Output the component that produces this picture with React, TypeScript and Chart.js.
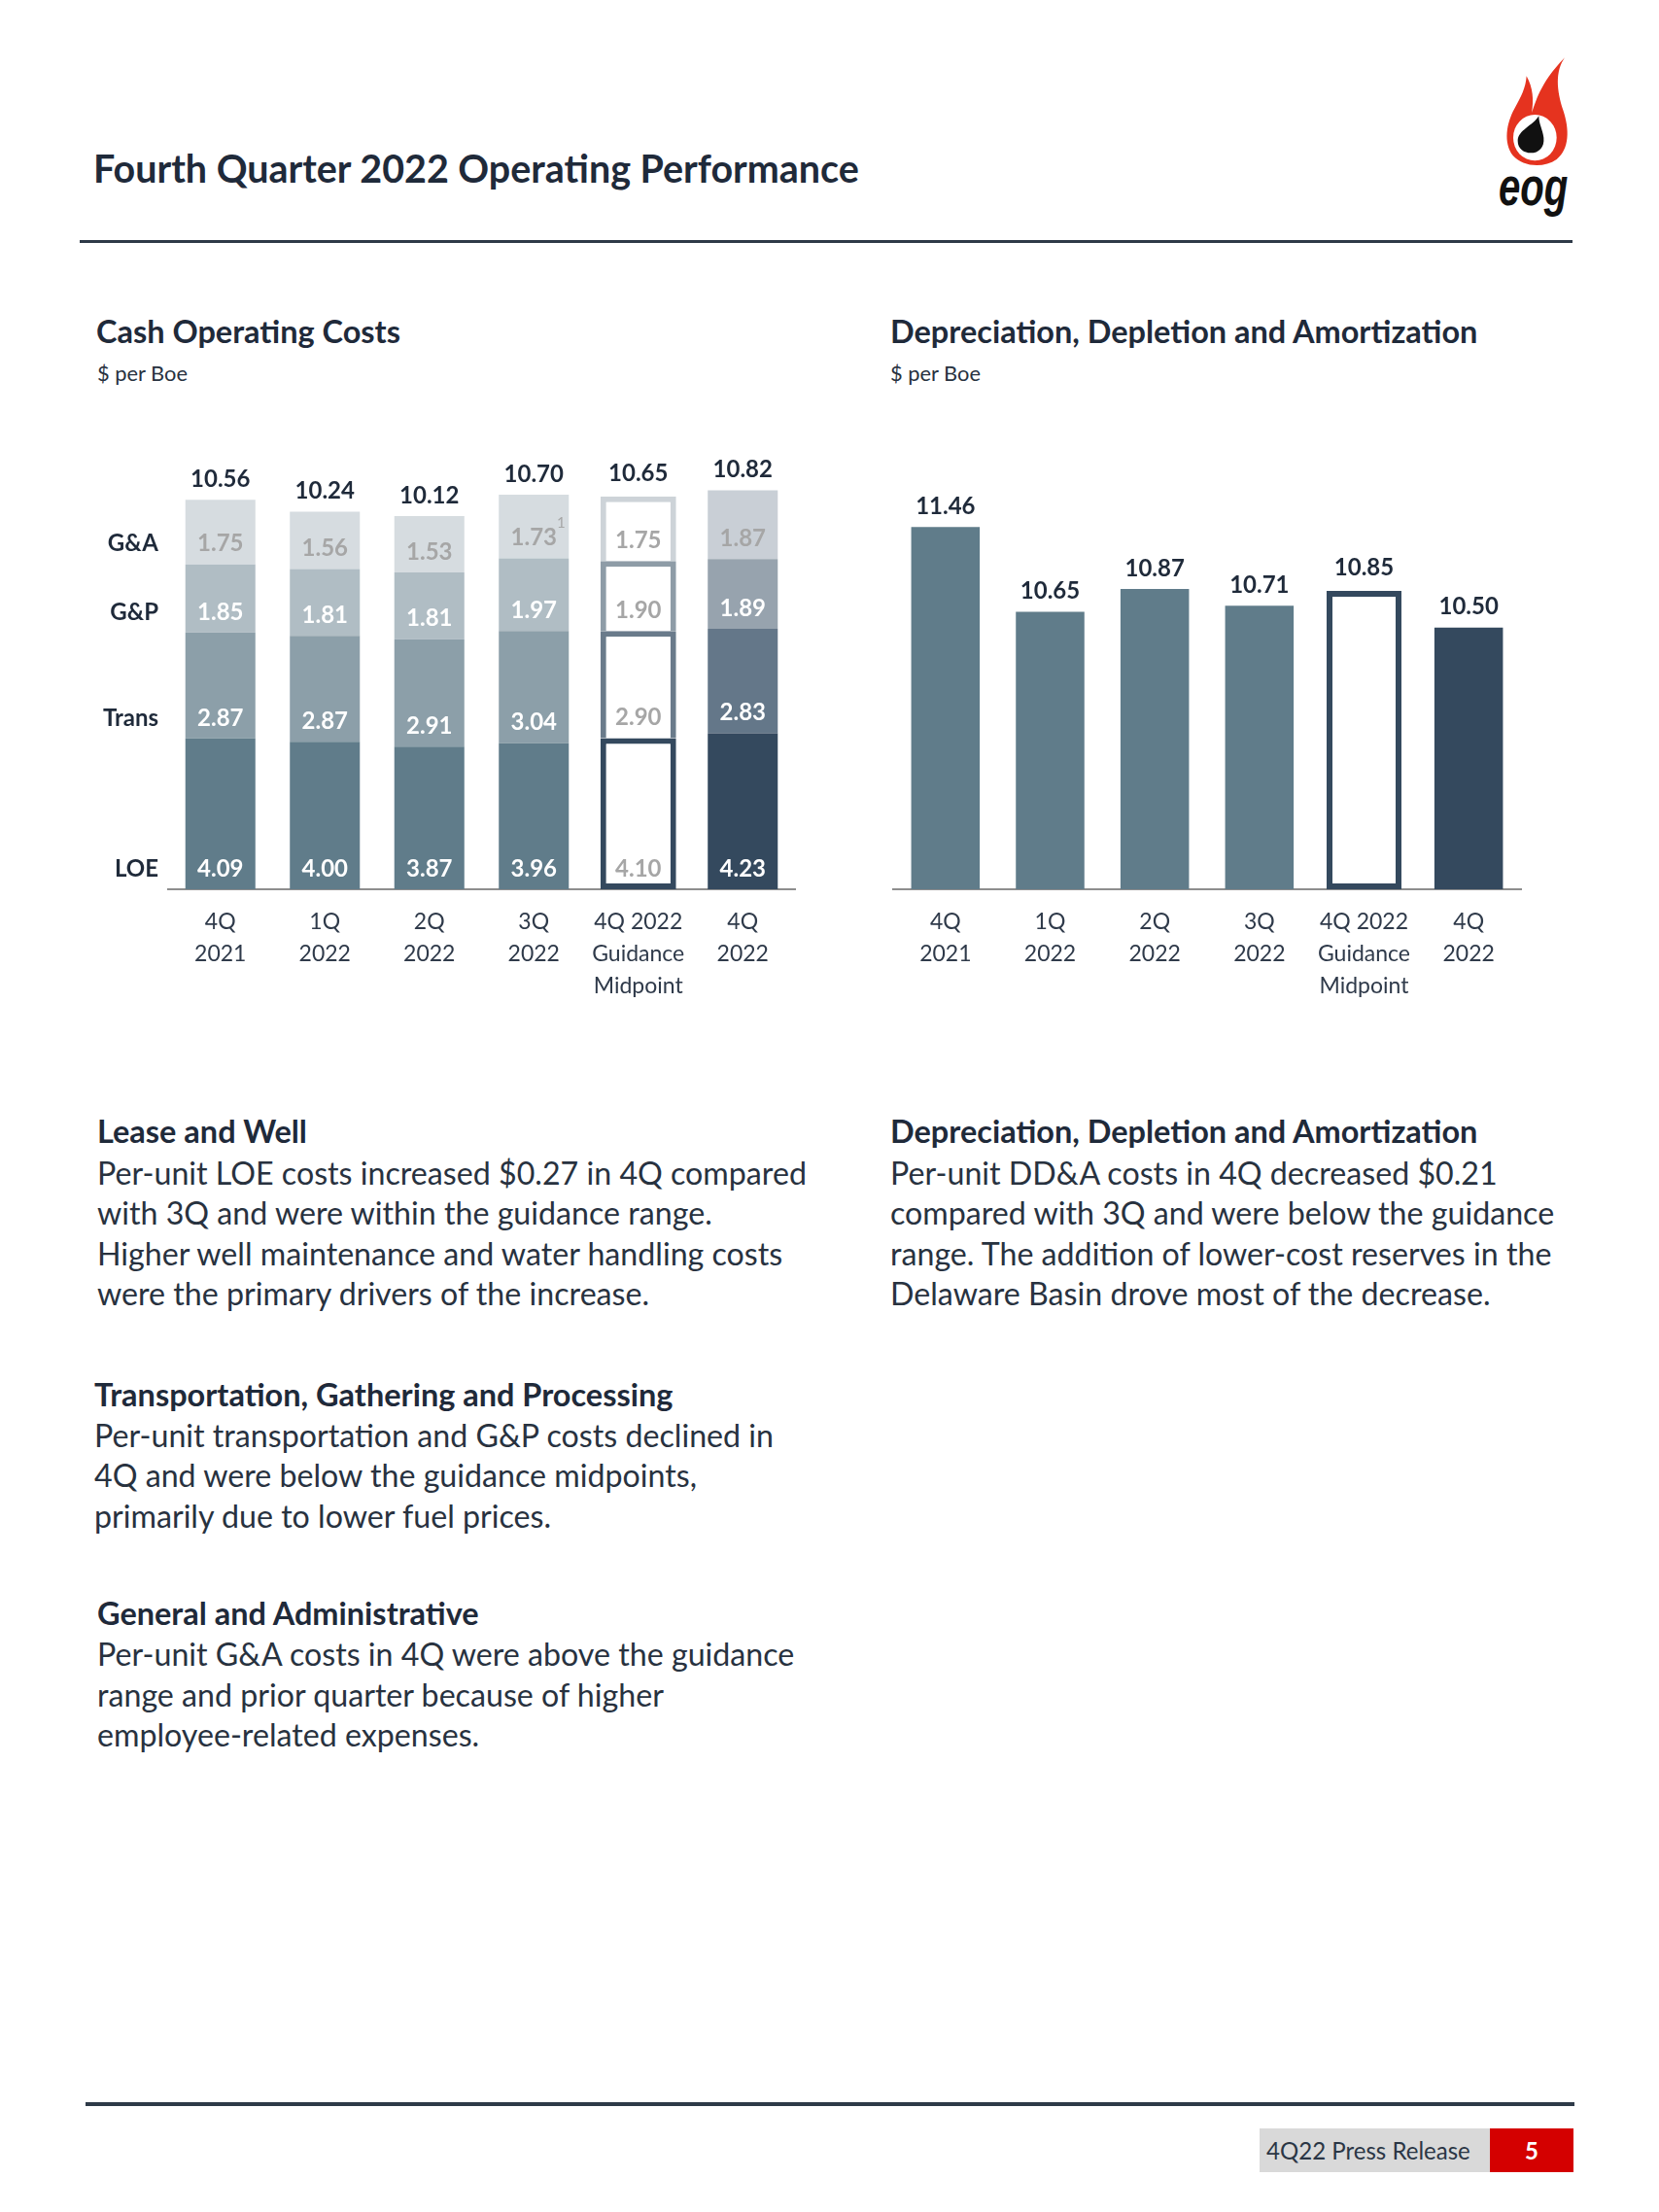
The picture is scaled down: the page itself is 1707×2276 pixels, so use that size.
import React, { useEffect, useLayoutEffect, useRef } from 'react';
import { Chart, registerables } from 'chart.js';

Chart.register(...registerables);

// ---------------- data ----------------
const categories: string[][] = [
  ['4Q', '2021'],
  ['1Q', '2022'],
  ['2Q', '2022'],
  ['3Q', '2022'],
  ['4Q 2022', 'Guidance', 'Midpoint'],
  ['4Q', '2022'],
];
const guidanceIndex = 4;
const segmentNames = ['LOE', 'Trans', 'G&P', 'G&A'];
const loeValues = [4.09, 4.0, 3.87, 3.96, 4.1, 4.23];
const transValues = [2.87, 2.87, 2.91, 3.04, 2.9, 2.83];
const gpValues = [1.85, 1.81, 1.81, 1.97, 1.9, 1.89];
const gaValues = [1.75, 1.56, 1.53, 1.73, 1.75, 1.87];
const cashTotals = [10.56, 10.24, 10.12, 10.7, 10.65, 10.82];
const footnoteIndex = 3;
const footnoteMark = '1';
const cashAxisRange = [0, 12];

const ddaValues = [11.46, 10.65, 10.87, 10.71, 10.85, 10.5];
const ddaAxisRange = [8, 12];

// ---------------- styles ----------------
const FONT = 'Lato';
const INK = '#1f2a3a';
const BODY = '#28323f';
const TICK = '#2f3a4a';
const AXIS = '#8e8e8e';
const SEG = ['#607c8a', '#8c9fa9', '#b0bdc4', '#d6dce0'];
const SEG_LATEST = ['#34495e', '#647789', '#97a3ae', '#c9cfd6'];
const GUIDE_BORDER = ['#34495e', '#6a7b8b', '#8e9ca7', '#cdd3d8'];
const SEG_LABEL = ['#ffffff', '#ffffff', '#ffffff', '#a6a6a6'];
const GUIDE_LABEL = '#a6a6a6';
const DDA = '#607c8a';
const DDA_LATEST = '#34495e';

Chart.defaults.font.family = FONT;

const fmt = (v: number) => v.toFixed(2);

const cashLabelPlugin = {
  id: 'cashLabels',
  afterDatasetsDraw(chart: any) {
    const ctx = chart.ctx as CanvasRenderingContext2D;
    ctx.save();
    ctx.textBaseline = 'middle';
    chart.data.datasets.forEach((ds: any, di: number) => {
      const meta = chart.getDatasetMeta(di);
      const seg = di % 4;
      const isGuide = di >= 4;
      meta.data.forEach((bar: any, i: number) => {
        const v = ds.data[i];
        if (v === null || v === undefined) return;
        const p = bar.getProps(['x', 'y', 'base'], true);
        ctx.font = `bold 24px ${FONT}`;
        ctx.textAlign = 'center';
        ctx.fillStyle = isGuide ? GUIDE_LABEL : SEG_LABEL[seg];
        ctx.fillText(fmt(v), p.x, p.base - 21);
        if (seg === 3 && !isGuide && i === footnoteIndex) {
          ctx.font = `15px ${FONT}`;
          ctx.fillText(footnoteMark, p.x + 28, p.base - 36);
        }
        if (seg === 3) {
          ctx.font = `bold 24px ${FONT}`;
          ctx.fillStyle = INK;
          ctx.fillText(fmt(cashTotals[i]), p.x, p.y - (isGuide ? 24 : 21));
        }
        if (i === 0 && !isGuide) {
          ctx.font = `bold 24px ${FONT}`;
          ctx.fillStyle = INK;
          ctx.textAlign = 'right';
          ctx.fillText(segmentNames[seg], chart.chartArea.left - 10, p.base - 21);
        }
      });
    });
    ctx.restore();
  },
};

const ddaLabelPlugin = {
  id: 'ddaLabels',
  afterDatasetsDraw(chart: any) {
    const ctx = chart.ctx as CanvasRenderingContext2D;
    ctx.save();
    ctx.textBaseline = 'middle';
    ctx.textAlign = 'center';
    ctx.font = `bold 24px ${FONT}`;
    ctx.fillStyle = INK;
    chart.data.datasets.forEach((ds: any, di: number) => {
      const meta = chart.getDatasetMeta(di);
      meta.data.forEach((bar: any, i: number) => {
        const v = ds.data[i];
        if (v === null || v === undefined) return;
        const p = bar.getProps(['x', 'y'], true);
        ctx.fillText(fmt(v), p.x, p.y - (di === 1 ? 24 : 21));
      });
    });
    ctx.restore();
  },
};

const xAxis = (extra: any = {}) => ({
  stacked: true,
  grid: { display: false, drawTicks: false },
  border: { display: true, color: AXIS, width: 2 },
  ticks: {
    color: TICK,
    font: { family: FONT, size: 23, lineHeight: '33px' },
    padding: 17.5,
    maxRotation: 0,
    autoSkip: false,
  },
  ...extra,
});

function cashConfig(): any {
  const segments = [loeValues, transValues, gpValues, gaValues];
  const last = categories.length - 1;
  const actual = segments.map((vals, s) => ({
    label: segmentNames[s],
    data: vals.map((v, i) => (i === guidanceIndex ? null : v)),
    backgroundColor: vals.map((_, i) => (i === last ? SEG_LATEST[s] : SEG[s])),
    borderWidth: 0,
    barPercentage: 0.67,
    categoryPercentage: 1,
    stack: 'cash',
  }));
  const guide = segments.map((vals, s) => ({
    label: segmentNames[s] + ' guidance',
    data: vals.map((v, i) => (i === guidanceIndex ? v : null)),
    backgroundColor: '#ffffff',
    borderColor: GUIDE_BORDER[s],
    borderWidth: 6,
    borderSkipped: s === 0 ? false : 'start',
    barPercentage: 0.725,
    categoryPercentage: 1,
    stack: 'cash',
  }));
  return {
    type: 'bar',
    data: { labels: categories, datasets: [...actual, ...guide] },
    options: {
      responsive: false,
      animation: false,
      layout: { padding: { left: 113, right: 22, top: 19.6, bottom: 31 } },
      plugins: { legend: { display: false }, tooltip: { enabled: false } },
      scales: {
        x: xAxis(),
        y: { stacked: true, display: false, min: cashAxisRange[0], max: cashAxisRange[1] },
      },
    },
    plugins: [cashLabelPlugin],
  };
}

function ddaConfig(): any {
  const last = categories.length - 1;
  return {
    type: 'bar',
    data: {
      labels: categories,
      datasets: [
        {
          label: 'DD&A',
          data: ddaValues.map((v, i) => (i === guidanceIndex ? null : v)),
          backgroundColor: ddaValues.map((_, i) => (i === last ? DDA_LATEST : DDA)),
          borderWidth: 0,
          barPercentage: 0.655,
          categoryPercentage: 1,
          base: ddaAxisRange[0],
          stack: 'dda',
        },
        {
          label: 'DD&A guidance',
          data: ddaValues.map((v, i) => (i === guidanceIndex ? v : null)),
          backgroundColor: '#ffffff',
          borderColor: DDA_LATEST,
          borderWidth: 6,
          borderSkipped: false,
          barPercentage: 0.715,
          categoryPercentage: 1,
          base: ddaAxisRange[0],
          stack: 'dda',
        },
      ],
    },
    options: {
      responsive: false,
      animation: false,
      layout: { padding: { left: 39, right: 95, top: 44.2, bottom: 31 } },
      plugins: { legend: { display: false }, tooltip: { enabled: false } },
      scales: {
        x: xAxis(),
        y: { stacked: true, display: false, min: ddaAxisRange[0], max: ddaAxisRange[1] },
      },
    },
    plugins: [ddaLabelPlugin],
  };
}

function ChartBox({ make, left, top, width, height }: any) {
  const ref = useRef<HTMLCanvasElement>(null);
  useEffect(() => {
    const chart = new Chart(ref.current as HTMLCanvasElement, make());
    return () => chart.destroy();
  }, []);
  return (
    <canvas
      ref={ref}
      width={width}
      height={height}
      style={{ position: 'absolute', left, top, width, height }}
    />
  );
}

// ---------------- page text ----------------
const GROUP_STYLE: Record<string, { size: number; weight: number; color: string }> = {
  title: { size: 36, weight: 700, color: INK },
  head: { size: 30, weight: 700, color: INK },
  sub: { size: 21, weight: 400, color: BODY },
  body: { size: 31, weight: 400, color: BODY },
  foot: { size: 22, weight: 400, color: '#2b3645' },
};

type Line = { t: string; x: number; y: number; g: string; w: number };
const textLines: Line[] = [
  { t: 'Fourth Quarter 2022 Operating Performance', x: 96, y: 173, g: 'title', w: 788 },
  { t: 'Cash Operating Costs', x: 99, y: 341, g: 'head', w: 303 },
  { t: '$ per Boe', x: 100, y: 384, g: 'sub', w: 93 },
  { t: 'Depreciation, Depletion and Amortization', x: 916, y: 341, g: 'head', w: 602 },
  { t: '$ per Boe', x: 916, y: 384, g: 'sub', w: 93 },

  { t: 'Lease and Well', x: 100, y: 1164, g: 'head', w: 218 },
  { t: 'Per-unit LOE costs increased $0.27 in 4Q compared', x: 100, y: 1207, g: 'body', w: 719 },
  { t: 'with 3Q and were within the guidance range.', x: 100, y: 1248, g: 'body', w: 632 },
  { t: 'Higher well maintenance and water handling costs', x: 100, y: 1290, g: 'body', w: 714 },
  { t: 'were the primary drivers of the increase.', x: 100, y: 1331, g: 'body', w: 574 },

  { t: 'Transportation, Gathering and Processing', x: 97, y: 1435, g: 'head', w: 600 },
  { t: 'Per-unit transportation and G&P costs declined in', x: 97, y: 1477, g: 'body', w: 700 },
  { t: '4Q and were below the guidance midpoints,', x: 97, y: 1518, g: 'body', w: 625 },
  { t: 'primarily due to lower fuel prices.', x: 97, y: 1560, g: 'body', w: 477 },

  { t: 'General and Administrative', x: 100, y: 1660, g: 'head', w: 398 },
  { t: 'Per-unit G&A costs in 4Q were above the guidance', x: 100, y: 1702, g: 'body', w: 711 },
  { t: 'range and prior quarter because of higher', x: 100, y: 1744, g: 'body', w: 588 },
  { t: 'employee-related expenses.', x: 100, y: 1785, g: 'body', w: 390 },

  { t: 'Depreciation, Depletion and Amortization', x: 916, y: 1164, g: 'head', w: 605 },
  { t: 'Per-unit DD&A costs in 4Q decreased $0.21', x: 916, y: 1207, g: 'body', w: 609 },
  { t: 'compared with 3Q and were below the guidance', x: 916, y: 1248, g: 'body', w: 687 },
  { t: 'range. The addition of lower-cost reserves in the', x: 916, y: 1290, g: 'body', w: 682 },
  { t: 'Delaware Basin drove most of the decrease.', x: 916, y: 1331, g: 'body', w: 619 },

  { t: '4Q22 Press Release', x: 1303, y: 2213, g: 'foot', w: 210 },
];

function Logo() {
  return (
    <svg
      style={{ position: 'absolute', left: 1500, top: 40 }}
      width={140}
      height={200}
      viewBox="0 0 420 600"
    >
      <path
        d="M330,58 C300,100 305,160 325,220 C345,280 345,340 305,372 C265,400 200,395 170,360 C140,320 150,260 175,215 C195,180 210,150 212,115 C232,150 235,190 228,228 C240,200 250,140 330,58 Z"
        fill="#e5331f"
      />
      <ellipse cx={238} cy={305} rx={67} ry={71} fill="#ffffff" />
      <path
        d="M250,238 C232,268 185,282 185,315 C185,340 205,352 225,352 C250,352 268,335 265,305 C262,280 250,262 250,238 Z"
        fill="#111111"
      />
      <text
        x={126}
        y={512}
        fontFamily="Liberation Sans, Arial, sans-serif"
        fontWeight="bold"
        fontStyle="italic"
        fontSize={165}
        textLength={214}
        lengthAdjust="spacingAndGlyphs"
        fill="#111111"
      >
        eog
      </text>
    </svg>
  );
}

export default function App() {
  const pageRef = useRef<HTMLDivElement>(null);

  useLayoutEffect(() => {
    const root = pageRef.current;
    if (!root) return;
    const els = Array.from(root.querySelectorAll<HTMLElement>('[data-g]'));
    const sums: Record<string, [number, number]> = {};
    els.forEach((el) => {
      const g = el.dataset.g as string;
      const w = Number(el.dataset.w);
      const m = el.getBoundingClientRect().width;
      if (!sums[g]) sums[g] = [0, 0];
      sums[g][0] += w;
      sums[g][1] += m;
    });
    els.forEach((el) => {
      const g = el.dataset.g as string;
      const [w, m] = sums[g];
      if (m > 0) el.style.fontSize = `${(GROUP_STYLE[g].size * w) / m}px`;
    });
  }, []);

  return (
    <div
      ref={pageRef}
      style={{
        position: 'absolute',
        left: 0,
        top: 0,
        width: 1707,
        height: 2276,
        background: '#ffffff',
        overflow: 'hidden',
        fontFamily: FONT,
      }}
    >
      {/* footer boxes drawn first so the footer text sits on top */}
      <div style={{ position: 'absolute', left: 88, top: 2163, width: 1532, height: 4, background: '#2e3a48' }} />
      <div style={{ position: 'absolute', left: 1296, top: 2190, width: 237, height: 45, background: '#d9d9d9' }} />
      <div
        style={{
          position: 'absolute',
          left: 1533,
          top: 2190,
          width: 86,
          height: 45,
          background: '#d40000',
          color: '#ffffff',
          fontWeight: 700,
          fontSize: 24,
          lineHeight: '45px',
          textAlign: 'center',
        }}
      >
        5
      </div>

      <div style={{ position: 'absolute', left: 82, top: 247, width: 1536, height: 3, background: '#2e3a48' }} />

      {textLines.map((l, k) => {
        const s = GROUP_STYLE[l.g];
        return (
          <div
            key={k}
            data-g={l.g}
            data-w={l.w}
            style={{
              position: 'absolute',
              left: l.x,
              top: l.y - 21,
              height: 42,
              lineHeight: '42px',
              whiteSpace: 'nowrap',
              fontSize: s.size,
              fontWeight: s.weight,
              color: s.color,
            }}
          >
            {l.t}
          </div>
        );
      })}

      <Logo />

      <ChartBox make={cashConfig} left={60} top={440} width={780} height={640} />
      <ChartBox make={ddaConfig} left={880} top={440} width={780} height={640} />
    </div>
  );
}
